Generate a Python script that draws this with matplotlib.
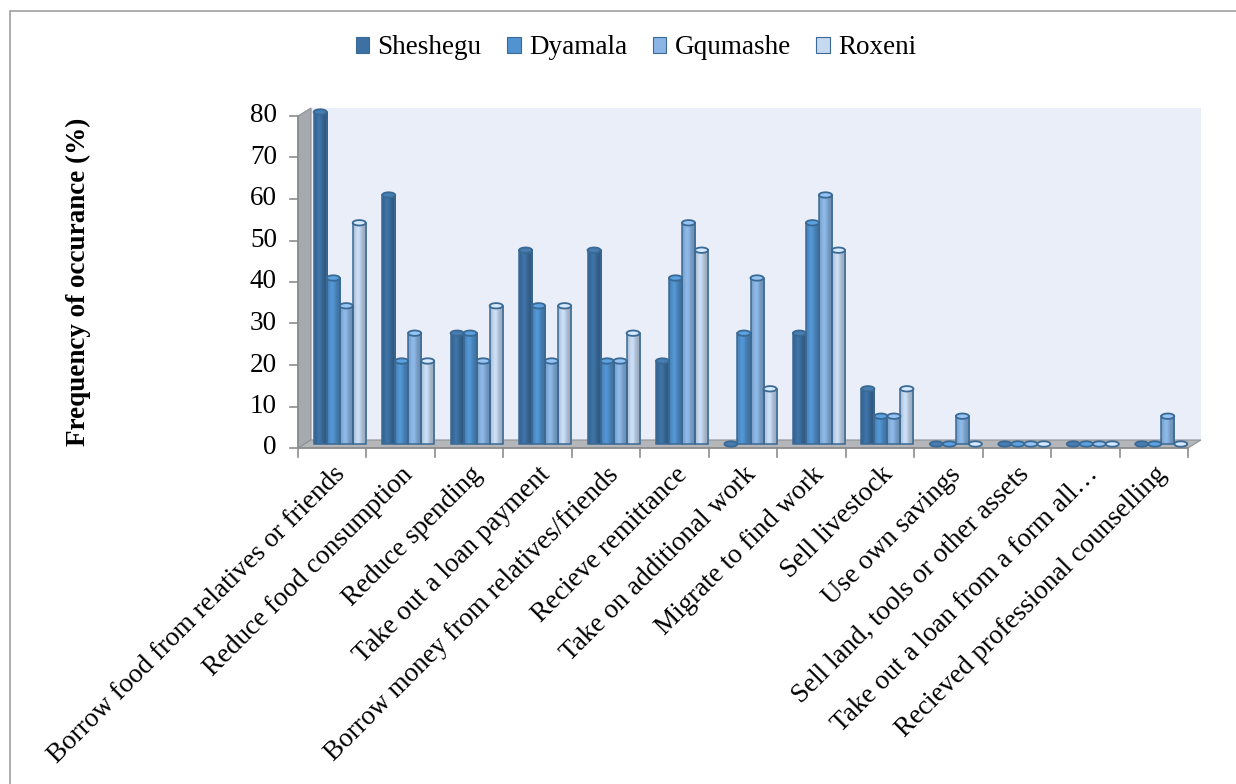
import numpy as np
import matplotlib
matplotlib.use("Agg")
import matplotlib.pyplot as plt
from matplotlib.patches import Polygon, Ellipse, Rectangle, Patch
from matplotlib.lines import Line2D
from matplotlib.transforms import offset_copy, IdentityTransform
from matplotlib.colors import to_rgb

categories = [
    "Borrow food from relatives or friends",
    "Reduce food consumption",
    "Reduce spending",
    "Take out a loan payment",
    "Borrow money from relatives/friends",
    "Recieve remittance",
    "Take on additional work",
    "Migrate to find work",
    "Sell livestock",
    "Use own savings",
    "Sell land, tools or other assets",
    "Take out a loan from a form all\u2026",
    "Recieved professional counselling",
]
series_names = ["Sheshegu", "Dyamala", "Gqumashe", "Roxeni"]
sheshegu = [80, 60, 26.7, 46.7, 46.7, 20, 0, 26.7, 13.3, 0, 0, 0, 0]
dyamala = [40, 20, 26.7, 33.3, 20, 40, 26.7, 53.3, 6.7, 0, 0, 0, 0]
gqumashe = [33.3, 26.7, 20, 20, 20, 53.3, 40, 60, 6.7, 6.7, 0, 0, 6.7]
roxeni = [53.3, 20, 33.3, 33.3, 26.7, 46.7, 13.3, 46.7, 13.3, 0, 0, 0, 0]
y_ticks = [0, 10, 20, 30, 40, 50, 60, 70, 80]

colors = ["#3d71a3", "#5193d0", "#8ab5e4", "#c5d9f1"]
edge = "#3a6994"
serif = ["Liberation Serif", "DejaVu Serif"]
plt.rcParams["font.family"] = serif
FS = 19.5

W, H, DPI = 1236, 784, 100
fig = plt.figure(figsize=(W / DPI, H / DPI), dpi=DPI)
fig.patch.set_facecolor("white")

# outer chart border
fig.add_artist(Rectangle((10 / W, -0.01), 1.2, 1 - 11 / H + 0.01,
                         transform=fig.transFigure, fill=False,
                         edgecolor="#a0a0a0", linewidth=1.2))

ax = fig.add_axes([298 / W, 1 - 448 / H, 890 / W, 332 / H])
n = len(categories)
ax.set_xlim(-0.5, n - 0.5)
ax.set_ylim(0, 80)
ax.axis("off")

# 3-D depth of the walls/floor, in pixels
DX, DY = 13, 8
td = ax.transData
ident = IdentityTransform()


def P(x, y, back=False):
    px, py = td.transform((x, y))
    if back:
        return (px + DX, py + DY)
    return (px, py)


def add(artist):
    artist.set_clip_on(False)
    ax.add_artist(artist)


x0, x1 = -0.5, n - 0.5
# back wall
add(Polygon([P(x0, 0, True), P(x1, 0, True), P(x1, 80, True), P(x0, 80, True)],
            closed=True, transform=ident, facecolor="#e9eef8",
            edgecolor="none", zorder=0.5))
# left wall
add(Polygon([P(x0, 0), P(x0, 0, True), P(x0, 80, True), P(x0, 80)],
            closed=True, transform=ident, facecolor="#a6a9ad",
            edgecolor="#8e9195", linewidth=0.8, zorder=0.6))
# floor
add(Polygon([P(x0, 0), P(x1, 0), P(x1, 0, True), P(x0, 0, True)],
            closed=True, transform=ident, facecolor="#b4b6b9",
            edgecolor="#8e9195", linewidth=0.8, zorder=0.6))

# axis lines and ticks
axis_col = "#8c8c8c"
add(Line2D(*zip(P(x0, 0), P(x1, 0)), transform=ident, color=axis_col, lw=1.2, zorder=0.7))
add(Line2D(*zip(P(x0, 0), P(x0, 80)), transform=ident, color=axis_col, lw=1.2, zorder=0.7))
for b in np.arange(n + 1) - 0.5:
    px, py = P(b, 0)
    add(Line2D([px, px], [py, py - 9], transform=ident, color=axis_col, lw=1.2, zorder=0.7))
for t in y_ticks:
    px, py = P(x0, t)
    add(Line2D([px - 8, px], [py, py], transform=ident, color=axis_col, lw=1.2, zorder=0.7))
    fig.text(px - 21, py, str(t), transform=ident, ha="right", va="center", fontsize=FS)

# cylinders, drawn half-way into the depth
bar_tr = offset_copy(td, fig=fig, x=DX / 2 + 1, y=DY / 2, units="dots")
bw = 0.19
cap_h = 1.3
profile = np.linspace(0, 1, 64)
shade = 0.86 + 0.2 * np.exp(-((profile - 0.38) / 0.25) ** 2) - 0.08 * profile
values = [sheshegu, dyamala, gqumashe, roxeni]
x = np.arange(n)
for s, (vals, col) in enumerate(zip(values, colors)):
    base = np.array(to_rgb(col))
    grad = np.clip(base[None, :] * shade[:, None], 0, 1)
    img = grad[None, :, :]
    for i, v in enumerate(vals):
        cx = x[i] + (s - 1.5) * bw
        if v > 0:
            rect = Rectangle((cx - bw / 2, 0), bw, v, transform=bar_tr,
                             facecolor=col, edgecolor="none", zorder=2)
            rect.set_clip_on(False)
            ax.add_artist(rect)
            im = ax.imshow(img, extent=(cx - bw / 2, cx + bw / 2, 0, v), aspect="auto",
                           transform=bar_tr, zorder=2.1, interpolation="bilinear")
            im.set_clip_path(rect)
            add(Rectangle((cx - bw / 2, 0), bw, v, transform=bar_tr,
                          facecolor="none", edgecolor=edge, linewidth=1.1, zorder=2.2))
        top = np.clip(base * 1.04 + 0.03, 0, 1)
        add(Ellipse((cx, v), bw, cap_h, transform=bar_tr,
                    facecolor=top, edgecolor=edge, linewidth=1.3, zorder=2.3))

ax.set_xlim(-0.5, n - 0.5)
ax.set_ylim(0, 80)

# category labels
for i, c in enumerate(categories):
    px, py = P(x[i], 0)
    fig.text(px, py - 14, c, transform=ident, rotation=45, rotation_mode="anchor",
             ha="right", va="top", fontsize=FS)

# y-axis title
fig.text(78 / W, 1 - 282 / H, "Frequency of occurance (%)", rotation=90,
         ha="center", va="center", fontsize=FS, fontweight="bold")

# legend
handles = [Patch(facecolor=c, edgecolor=edge, linewidth=0.8) for c in colors]
fig.legend(handles, series_names, loc="center", bbox_to_anchor=(636 / W, 1 - 48 / H),
           ncol=4, frameon=False, fontsize=FS, handlelength=0.5, handleheight=0.5,
           handletextpad=0.3, columnspacing=0.95)

fig.savefig("out.png", dpi=DPI)
